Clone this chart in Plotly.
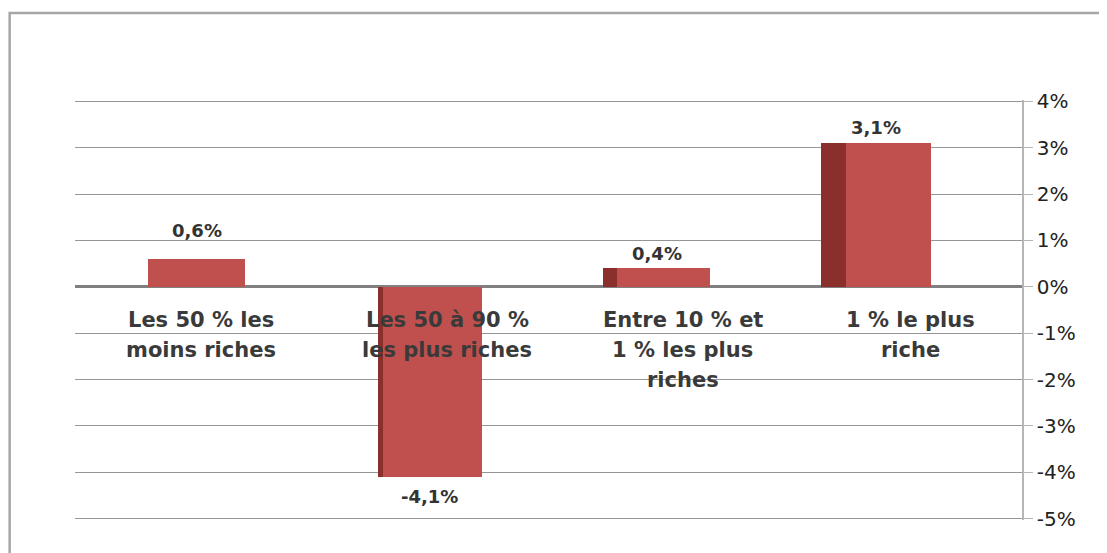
import plotly.graph_objects as go

category_lines = [["Les 50 % les", "moins riches"],
                  ["Les 50 à 90 %", "les plus riches"],
                  ["Entre 10 % et", "1 % les plus", "riches"],
                  ["1 % le plus", "riche"]]
values = [0.6, -4.1, 0.4, 3.1]
value_labels = ["0,6%", "-4,1%", "0,4%", "3,1%"]
tick_vals = [4, 3, 2, 1, 0, -1, -2, -3, -4, -5]
tick_text = ["4%", "3%", "2%", "1%", "0%", "-1%", "-2%", "-3%", "-4%", "-5%"]

# pseudo-3D styling (perspective): front face offset/width and side face width per bar
front_off = [-0.19, -0.20, -0.21, -0.245]
front_w = [0.41, 0.418, 0.393, 0.36]
side_w = [0.0, 0.022, 0.06, 0.105]
label_yshift = [16, -7, 2, 3]
cat_xshift = [8, 17, 16, 7]

front_color = "#C0504D"
side_color = "#8B2F2D"
FONT = "DejaVu Sans, Verdana, sans-serif"
LINE_STEP = 30

x_idx = list(range(len(values)))

fig = go.Figure()
fig.add_trace(go.Bar(
    x=x_idx, y=values, width=side_w,
    offset=[o - w for o, w in zip(front_off, side_w)],
    marker=dict(color=side_color, line=dict(width=0)),
    hoverinfo="skip", showlegend=False))
fig.add_trace(go.Bar(
    x=x_idx, y=values, width=front_w, offset=front_off,
    marker=dict(color=front_color, line=dict(width=0)),
    showlegend=False))

annotations = []
for i, (v, lab, lines) in enumerate(zip(values, value_labels, category_lines)):
    lx = i + front_off[i] + (front_w[i] - side_w[i]) / 2
    annotations.append(dict(
        x=lx, y=v, xref="x", yref="y", text="<b>" + lab + "</b>", showarrow=False,
        yanchor="bottom" if v >= 0 else "top", yshift=label_yshift[i],
        font=dict(family=FONT, size=18, color="#333333")))
    for k, line in enumerate(lines):
        annotations.append(dict(
            x=i, y=0, xref="x", yref="y", text="<b>" + line + "</b>", showarrow=False,
            yanchor="top", yshift=-19 - LINE_STEP * k, xshift=cat_xshift[i],
            font=dict(family=FONT, size=21, color="#3a3a3a")))

fig.update_layout(
    width=1107, height=553,
    margin=dict(l=67, r=93, t=92, b=41),
    paper_bgcolor="white", plot_bgcolor="white",
    barmode="overlay", bargap=0,
    xaxis=dict(range=[-0.5, 3.5], showticklabels=False, showgrid=False,
               zeroline=False, showline=False, fixedrange=True),
    yaxis=dict(range=[-5.03, 4.03], side="right", tickvals=tick_vals, ticktext=tick_text,
               showgrid=True, gridcolor="#959595", gridwidth=1.3,
               zeroline=True, zerolinecolor="#808080", zerolinewidth=2.5,
               showline=True, linecolor="#b5b5b5", linewidth=1.5,
               ticks="outside", ticklen=9, tickcolor="#b5b5b5",
               tickfont=dict(family=FONT, size=20, color="#222222"),
               fixedrange=True),
    annotations=annotations,
    shapes=[dict(type="rect", xref="paper", yref="paper",
                 x0=-0.069, x1=1.2, y0=-0.2, y1=1.207,
                 line=dict(color="#a6a6a6", width=2.5), fillcolor="rgba(0,0,0,0)",
                 layer="below")],
)

fig.write_html("out.html")
